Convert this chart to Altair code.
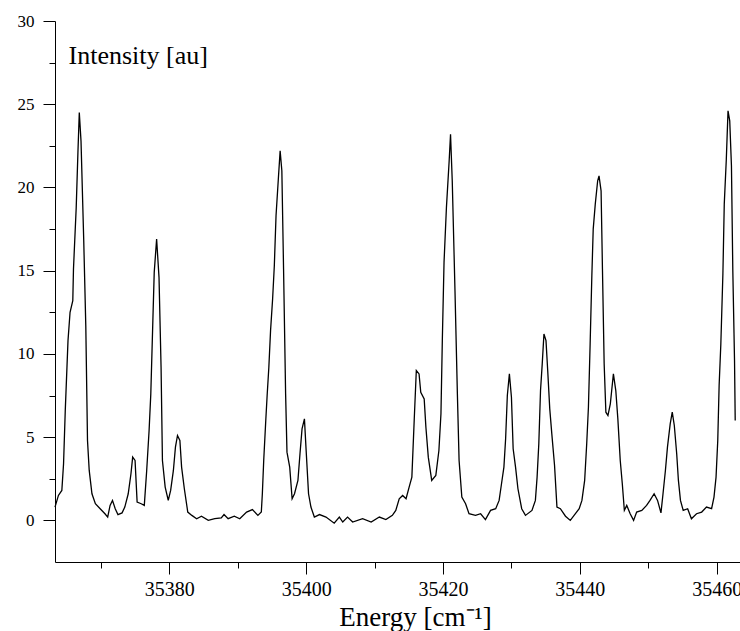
import altair as alt
import pandas as pd

energy = [
    35363.3, 35363.8, 35364.3, 35364.55, 35364.8, 35365.2, 35365.5, 35365.9, 35366.0, 35366.4,
    35366.65, 35366.85, 35367.1, 35367.5, 35367.8, 35368.05, 35368.3, 35368.7, 35369.2, 35369.9,
    35370.6, 35371.0, 35371.35, 35371.7, 35372.1, 35372.5, 35373.1, 35373.5, 35374.0, 35374.4,
    35374.65, 35375.0, 35375.3, 35375.9, 35376.35, 35376.7, 35377.05, 35377.3, 35377.6, 35377.8,
    35378.15, 35378.5, 35378.8, 35379.0, 35379.4, 35379.85, 35380.2, 35380.6, 35380.9, 35381.2,
    35381.55, 35381.8, 35382.2, 35382.7, 35383.3, 35384.0, 35384.7, 35385.7, 35386.65, 35387.6,
    35388.0, 35388.6, 35389.5, 35390.3, 35391.3, 35392.15, 35392.95, 35393.45, 35393.6, 35393.8,
    35394.1, 35394.3, 35394.55, 35394.8, 35395.1, 35395.35, 35395.6, 35395.95, 35396.2, 35396.45,
    35396.7, 35397.0, 35397.2, 35397.6, 35397.95, 35398.3, 35398.8, 35399.1, 35399.4, 35399.75,
    35400.0, 35400.35, 35400.7, 35401.2, 35401.95, 35402.9, 35404.1, 35404.85, 35405.35, 35406.05,
    35406.8, 35408.25, 35409.5, 35410.7, 35411.65, 35412.6, 35413.1, 35413.6, 35414.1, 35414.6,
    35415.05, 35415.45, 35415.8, 35416.1, 35416.5, 35416.75, 35417.25, 35417.5, 35417.85, 35418.35,
    35418.95, 35419.4, 35419.7, 35419.9, 35420.15, 35420.5, 35420.9, 35421.1, 35421.35, 35421.75,
    35422.1, 35422.35, 35422.75, 35423.3, 35423.8, 35424.75, 35425.5, 35426.2, 35426.95, 35427.7,
    35428.2, 35428.55, 35428.9, 35429.15, 35429.4, 35429.7, 35430.0, 35430.25, 35430.6, 35430.95,
    35431.5, 35432.05, 35433.0, 35433.5, 35433.75, 35434.0, 35434.25, 35434.5, 35434.75, 35435.05,
    35435.3, 35435.6, 35435.9, 35436.3, 35436.65, 35437.15, 35437.9, 35438.6, 35439.35, 35439.9,
    35440.3, 35440.7, 35441.0, 35441.25, 35441.5, 35441.75, 35441.95, 35442.25, 35442.6, 35442.8,
    35443.1, 35443.3, 35443.55, 35443.8, 35444.1, 35444.45, 35444.65, 35444.9, 35445.25, 35445.55,
    35445.9, 35446.2, 35446.5, 35446.85, 35447.35, 35447.85, 35448.3, 35449.05, 35449.75, 35450.25,
    35450.85, 35451.35, 35451.85, 35452.15, 35452.5, 35452.8, 35453.2, 35453.5, 35453.8, 35454.15,
    35454.4, 35454.7, 35455.1, 35455.75, 35456.3, 35457.05, 35457.8, 35458.5, 35459.25, 35459.6,
    35459.9, 35460.15, 35460.35, 35460.6, 35460.9, 35461.1, 35461.4, 35461.65, 35461.9, 35462.15,
    35462.35, 35462.6, 35462.7,
]

intensity = [
    0.8, 1.5, 1.8, 3.4, 6.6, 10.8, 12.5, 13.2, 15.1, 18.8,
    22.1, 24.5, 22.8, 16.8, 11.7, 4.8, 3.0, 1.6, 1.0, 0.7,
    0.4, 0.2, 0.9, 1.2, 0.7, 0.35, 0.45, 0.8, 1.6, 2.8,
    3.8, 3.6, 1.1, 1.0, 0.9, 3.0, 5.4, 7.6, 12.0, 14.9,
    16.9, 14.6, 9.2, 3.6, 2.0, 1.2, 1.8, 3.0, 4.4, 5.1,
    4.8, 3.2, 1.9, 0.5, 0.3, 0.1, 0.25, 0.0, 0.1, 0.15,
    0.35, 0.1, 0.25, 0.1, 0.5, 0.65, 0.3, 0.5, 1.6, 3.6,
    6.0, 7.5, 9.2, 11.4, 13.3, 15.3, 18.3, 20.6, 22.2, 21.0,
    15.1, 7.6, 4.1, 3.2, 1.3, 1.6, 2.4, 4.0, 5.5, 6.1,
    4.2, 1.6, 0.8, 0.2, 0.35, 0.2, -0.17, 0.2, -0.1, 0.2,
    -0.1, 0.1, -0.1, 0.2, 0.05, 0.3, 0.6, 1.3, 1.5, 1.3,
    2.0, 2.6, 6.1, 9.0, 8.8, 7.7, 7.3, 5.6, 3.8, 2.4,
    2.7, 4.2, 6.4, 10.8, 15.5, 18.8, 21.6, 23.2, 20.4, 13.8,
    7.6, 3.6, 1.4, 1.0, 0.4, 0.3, 0.4, 0.05, 0.6, 0.7,
    1.2, 2.2, 3.2, 4.9, 7.5, 8.8, 7.4, 4.3, 3.2, 1.9,
    0.7, 0.3, 0.6, 1.2, 2.6, 4.6, 7.8, 9.4, 11.2, 10.8,
    9.0, 6.7, 5.2, 3.3, 0.8, 0.7, 0.25, 0.0, 0.4, 0.7,
    1.2, 2.4, 4.6, 6.8, 10.6, 14.7, 17.5, 19.0, 20.4, 20.7,
    19.8, 15.1, 9.4, 6.5, 6.3, 7.0, 7.8, 8.8, 7.8, 6.1,
    3.6, 2.2, 0.6, 0.9, 0.4, 0.0, 0.5, 0.6, 0.9, 1.2,
    1.6, 1.2, 0.45, 1.6, 3.0, 4.4, 5.8, 6.5, 5.7, 4.0,
    2.4, 1.2, 0.6, 0.7, 0.1, 0.4, 0.5, 0.8, 0.7, 1.4,
    2.6, 4.8, 8.1, 10.6, 14.8, 19.0, 21.7, 24.6, 24.0, 21.3,
    15.0, 9.6, 6.0,
]

x_major = [35380, 35400, 35420, 35440, 35460]
x_minor = [35370, 35390, 35410, 35430, 35450]
y_major = [0, 5, 10, 15, 20, 25, 30]
y_minor = [2.5, 7.5, 12.5, 17.5, 22.5, 27.5]

df = pd.DataFrame({"energy": energy, "intensity": intensity})

FONT = "Liberation Serif"
xscale = alt.Scale(domain=[35363.3, 35463.4], nice=False, zero=False)
yscale = alt.Scale(domain=[-2.5, 30], nice=False, zero=False)

x_axis_major = alt.Axis(
    orient="bottom",
    values=x_major, format="d", grid=False, tickSize=12, tickColor="black", tickWidth=1,
    domainColor="black", domainWidth=1, labelFont=FONT, labelFontSize=20, labelColor="black",
    labelPadding=5, labelFlush=False, labelOverlap=False,
    title="Energy [cm\u207b\u00b9]", titleFont=FONT, titleFontSize=27, titleFontWeight="normal",
    titleColor="black", titleX=360, titleY=63, titleAlign="center", titleBaseline="alphabetic",
)
y_axis_major = alt.Axis(
    orient="left",
    values=y_major, grid=False, tickSize=12, tickColor="black", tickWidth=1,
    domainColor="black", domainWidth=1, labelFont=FONT, labelFontSize=17, labelColor="black",
    labelPadding=9, labelFlush=False, labelOverlap=False,
    title="Intensity [au]", titleFont=FONT, titleFontSize=26, titleFontWeight="normal",
    titleColor="black", titleAngle=0, titleX=13, titleY=42, titleAlign="left",
    titleBaseline="alphabetic",
)
x_axis_minor = alt.Axis(
    orient="bottom",
    values=x_minor, grid=False, labels=False, domain=False, tickSize=6, tickColor="black",
    tickWidth=1, title="",
)
y_axis_minor = alt.Axis(
    orient="left",
    values=y_minor, grid=False, labels=False, domain=False, tickSize=6, tickColor="black",
    tickWidth=1, title="",
)

line = alt.Chart(df).mark_line(color="black", strokeWidth=1.3).encode(
    x=alt.X("energy:Q", scale=xscale, axis=x_axis_major),
    y=alt.Y("intensity:Q", scale=yscale, axis=y_axis_major),
)
minor = alt.Chart(df).mark_line(opacity=0).encode(
    x=alt.X("energy:Q", scale=xscale, axis=x_axis_minor),
    y=alt.Y("intensity:Q", scale=yscale, axis=y_axis_minor),
)

chart = (
    alt.layer(line, minor)
    .resolve_axis(x="independent", y="independent")
    .properties(
        width=685,
        height=541,
        autosize=alt.AutoSizeParams(type="none"),
        padding={"left": 55, "top": 21, "right": 0, "bottom": 69},
        background="white",
    )
    .configure_view(strokeWidth=0)
)

chart.save("out.html", embed_options={"renderer": "svg", "actions": False})
